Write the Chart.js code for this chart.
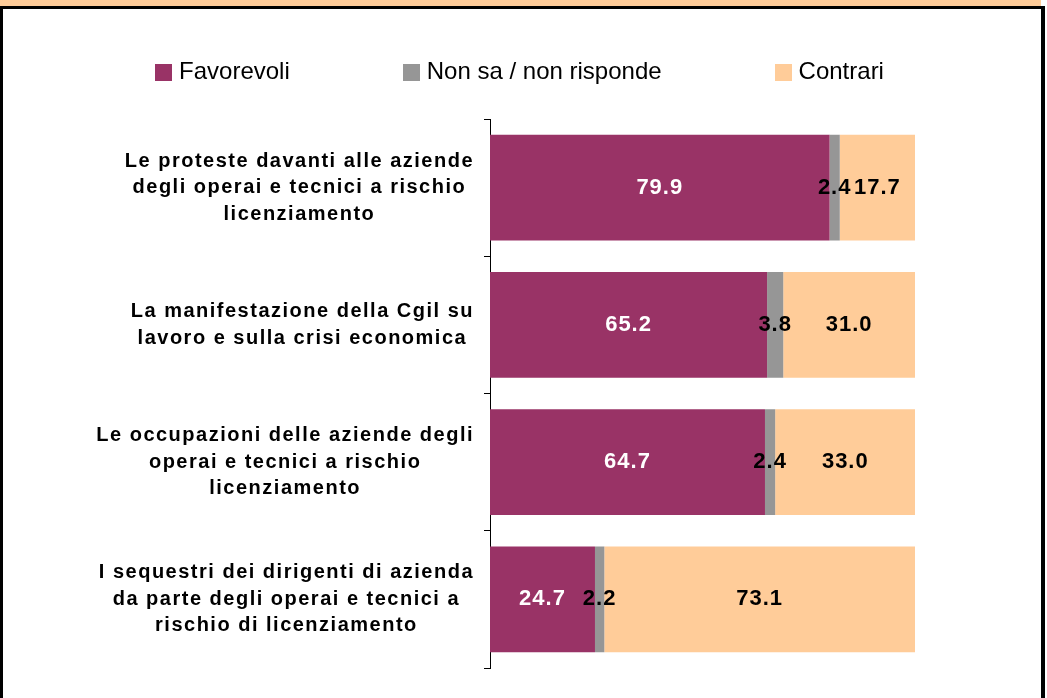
<!DOCTYPE html>
<html>
<head>
<meta charset="utf-8">
<script src="https://cdn.jsdelivr.net/npm/chart.js@4/dist/chart.umd.min.js"></script>
<style>
    body { margin: 0; background: #fff; }
    #wrap { position: relative; width: 1047px; height: 698px; overflow: hidden; background: #fff; }
    #band { position: absolute; left: 0; top: 0; width: 1041px; height: 6px; background: #FFCC99; }
    #frame {
        position: absolute; left: 0; top: 6px; width: 1045px; height: 700px;
        box-sizing: border-box; border-top: 3px solid #000; border-left: 3px solid #000; border-right: 4px solid #000;
        z-index: 2;
    }
    #legend {
        position: absolute; left: 0; top: 57px; width: 1039px; height: 28px;
        display: flex; justify-content: center; align-items: center; gap: 113px;
        font-family: "Liberation Sans", Arial, sans-serif; font-size: 24px; color: #000;
        z-index: 2;
    }
    .item { display: flex; align-items: center; }
    .box { width: 17px; height: 17px; margin-right: 7px; margin-top: 3px; }
    canvas { position: absolute; left: 0; top: 0; }
</style>
</head>
<body>
<div id="wrap">
    <canvas id="chart" width="1047" height="698"></canvas>
    <div id="band"></div>
    <div id="frame"></div>
    <div id="legend"></div>
</div>
<script>
// Data
const categories = [
    ['Le proteste davanti alle aziende', 'degli operai e tecnici a rischio', 'licenziamento'],
    ['La manifestazione della Cgil su', 'lavoro e sulla crisi economica'],
    ['Le occupazioni delle aziende degli', 'operai e tecnici a rischio', 'licenziamento'],
    ['I sequestri dei dirigenti di azienda', 'da parte degli operai e tecnici a', 'rischio di licenziamento']
];
const favorevoli = [79.9, 65.2, 64.7, 24.7];
const nonSa = [2.4, 3.8, 2.4, 2.2];
const contrari = [17.7, 31.0, 33.0, 73.1];
const seriesNames = ['Favorevoli', 'Non sa / non risponde', 'Contrari'];
const seriesColors = ['#993366', '#969696', '#FFCC99'];
const labelColors = ['#ffffff', '#000000', '#000000'];

const tickFont = { family: '"Liberation Sans", Arial, sans-serif', size: 20, weight: 'bold', lineHeight: 1.33 };
const tickLetterSpacing = '1.5px';

// HTML legend
const legendEl = document.getElementById('legend');
seriesNames.forEach((name, i) => {
    const item = document.createElement('div');
    item.className = 'item';
    item.innerHTML = `<span class="box" style="background:${seriesColors[i]}"></span><span>${name}</span>`;
    legendEl.appendChild(item);
});

// Excel-like letter spacing, and each label block right-aligned with its lines centred
const tickLabels = {
    id: 'tickLabels',
    beforeLayout(chart) { chart.ctx.letterSpacing = tickLetterSpacing; },
    beforeDraw(chart) {
        const ctx = chart.ctx;
        ctx.letterSpacing = tickLetterSpacing;
        const scale = chart.scales.y;
        const items = scale.getLabelItems(chart.chartArea);
        ctx.save();
        ctx.font = `${tickFont.weight} ${tickFont.size}px ${tickFont.family}`;
        const widths = items.map(it => Math.max(...[].concat(it.label).map(s => ctx.measureText(s).width)));
        ctx.restore();
        const widest = Math.max(...widths);
        items.forEach((it, i) => {
            it.options.translation[0] += (widest - widths[i]) / 2;
        });
    }
};

// Values in the middle of each segment
const valueLabels = {
    id: 'valueLabels',
    afterDatasetsDraw(chart) {
        const ctx = chart.ctx;
        ctx.save();
        ctx.letterSpacing = '1px';
        ctx.font = 'bold 22px "Liberation Sans", Arial, sans-serif';
        ctx.textAlign = 'center';
        ctx.textBaseline = 'middle';
        chart.data.datasets.forEach((ds, i) => {
            chart.getDatasetMeta(i).data.forEach((bar, j) => {
                ctx.fillStyle = labelColors[i];
                ctx.fillText(ds.data[j].toFixed(1), (bar.x + bar.base) / 2, bar.y);
            });
        });
        ctx.restore();
    }
};

const seriesData = [favorevoli, nonSa, contrari];

new Chart(document.getElementById('chart'), {
    type: 'bar',
    data: {
        labels: categories,
        datasets: seriesNames.map((name, i) => ({
            label: name,
            data: seriesData[i],
            backgroundColor: seriesColors[i],
            borderWidth: 0,
            barPercentage: 0.772,
            categoryPercentage: 1
        }))
    },
    options: {
        indexAxis: 'y',
        responsive: false,
        animation: false,
        layout: { padding: { left: 0, top: 119, right: 132, bottom: 30 } },
        scales: {
            x: { stacked: true, display: false, min: 0, max: 100 },
            y: {
                stacked: true,
                afterFit(scale) {
                    scale.width = 490;
                    scale.paddingTop = 0;
                    scale.paddingBottom = 0;
                },
                grid: { display: true, drawOnChartArea: false, drawTicks: true, tickLength: 6, color: '#000', offset: true },
                border: { display: true, color: '#000', width: 1 },
                ticks: {
                    color: '#000',
                    padding: 10,
                    crossAlign: 'center',
                    font: tickFont
                }
            }
        },
        plugins: {
            legend: { display: false },
            tooltip: { enabled: false }
        }
    },
    plugins: [tickLabels, valueLabels]
});
</script>
</body>
</html>
